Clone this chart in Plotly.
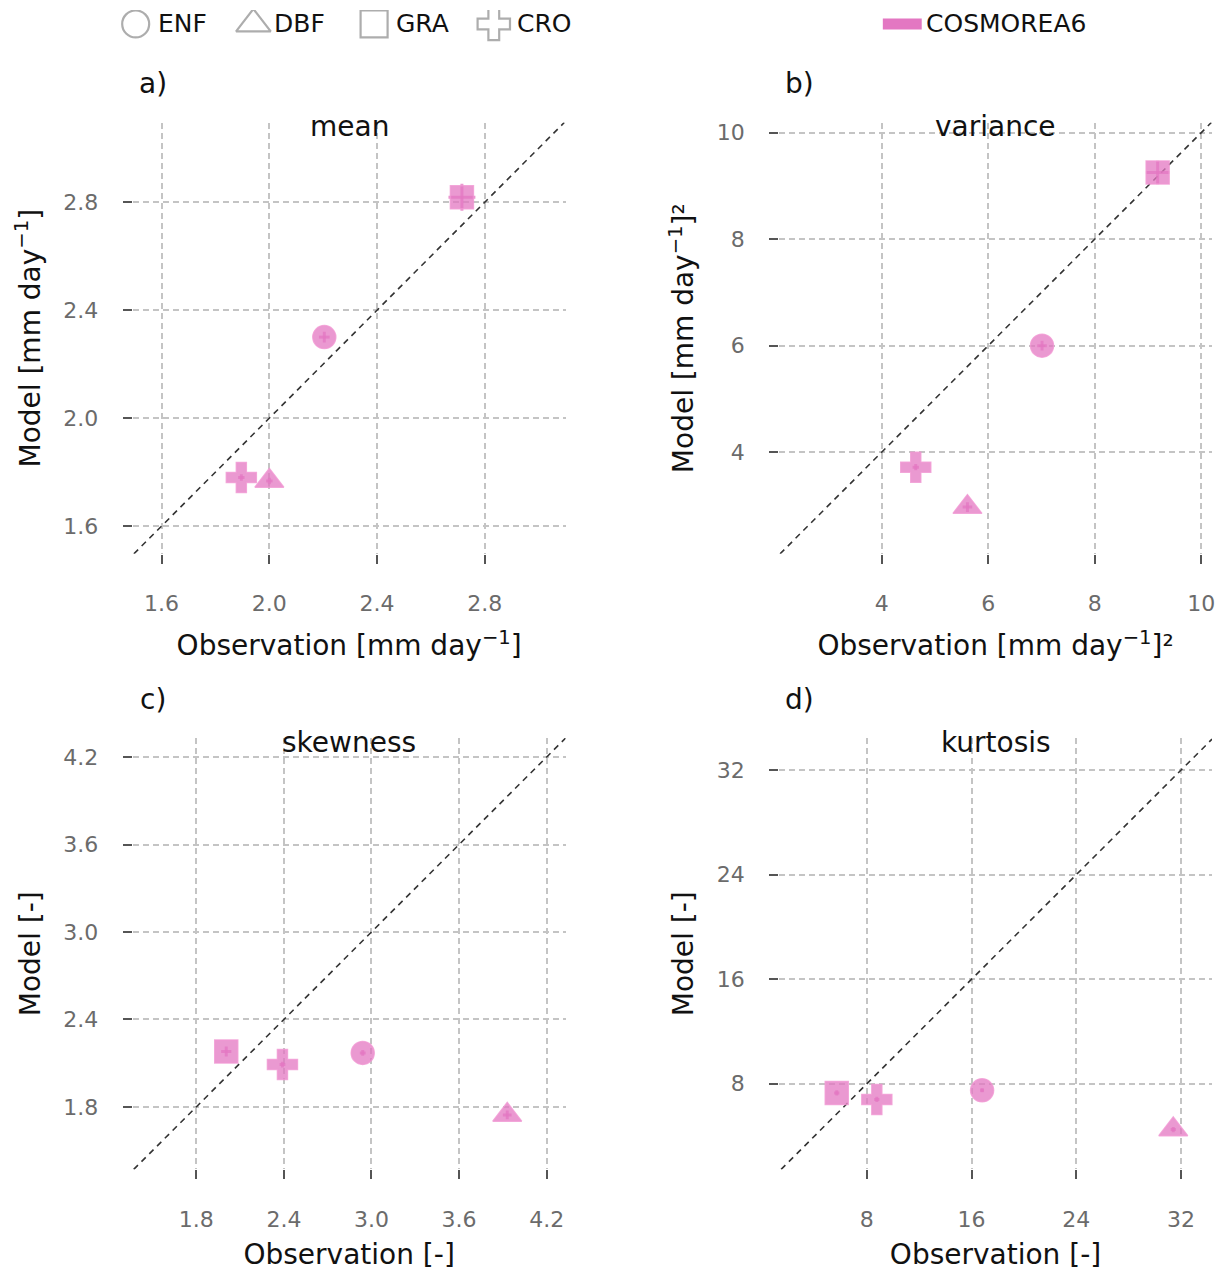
import plotly.graph_objects as go

# ---------------- data ----------------
types = ["ENF", "DBF", "GRA", "CRO"]
symbols = ["circle", "triangle-up", "square", "cross"]

mean_obs = [2.204, 2.00, 2.715, 1.896]
mean_mod = [2.30, 1.767, 2.818, 1.78]
mean_err_x = [0.02, 0.012, 0.05, 0.012]
mean_err_y = [0.02, 0.012, 0.05, 0.012]

var_obs = [7.01, 5.61, 9.18, 4.64]
var_mod = [6.00, 2.97, 9.25, 3.72]
var_err_x = [0.09, 0.09, 0.22, 0.06]
var_err_y = [0.09, 0.09, 0.22, 0.06]

skew_obs = [2.94, 3.93, 2.005, 2.39]
skew_mod = [2.17, 1.745, 2.18, 2.09]
skew_err_x = [0.02, 0.03, 0.035, 0.02]
skew_err_y = [0.02, 0.03, 0.035, 0.02]

kurt_obs = [16.8, 31.4, 5.7, 8.76]
kurt_mod = [7.5, 4.5, 7.3, 6.8]
kurt_err_x = [0.15, 0.2, 0.2, 0.2]
kurt_err_y = [0.15, 0.2, 0.2, 0.2]

panels = [
    dict(name="mean", label="a)", obs=mean_obs, mod=mean_mod, ex=mean_err_x, ey=mean_err_y,
         xr=[1.4926, 3.10], yr=[1.497, 3.095], ticks=[1.6, 2.0, 2.4, 2.8], fmt=".1f",
         xt="Observation [mm day<sup>−1</sup>]", yt="Model [mm day<sup>−1</sup>]"),
    dict(name="variance", label="b)", obs=var_obs, mod=var_mod, ex=var_err_x, ey=var_err_y,
         xr=[2.075, 10.2], yr=[2.093, 10.187], ticks=[4, 6, 8, 10], fmt="d",
         xt="Observation [mm day<sup>−1</sup>]²", yt="Model [mm day<sup>−1</sup>]²"),
    dict(name="skewness", label="c)", obs=skew_obs, mod=skew_mod, ex=skew_err_x, ey=skew_err_y,
         xr=[1.364, 4.33], yr=[1.371, 4.33], ticks=[1.8, 2.4, 3.0, 3.6, 4.2], fmt=".1f",
         xt="Observation [-]", yt="Model [-]"),
    dict(name="kurtosis", label="d)", obs=kurt_obs, mod=kurt_mod, ex=kurt_err_x, ey=kurt_err_y,
         xr=[1.295, 34.36], yr=[1.45, 34.44], ticks=[8, 16, 24, 32], fmt="d",
         xt="Observation [-]", yt="Model [-]"),
]

# page offset compensation (body margin) and figure size
OX, OY = 8, 9
FW, FH = 1225 - 16, 1281 - 18


def px(xr):
    return (xr - OX) / FW


def py(yr):
    return 1 - (yr - OY) / FH


xdoms = [[px(133), px(567)], [px(781), px(1215)]]
ydoms = [[py(555), py(122)], [py(1173), py(740)]]

PINK = "rgba(227,119,194,0.75)"
PINK_SOLID = "#e377c2"
FONT = "DejaVu Sans"

fig = go.Figure()
layout = dict()
annotations = []

for i, p in enumerate(panels):
    r, c = divmod(i, 2)
    n = i + 1
    xa = "x" if n == 1 else f"x{n}"
    ya = "y" if n == 1 else f"y{n}"
    xkey = "xaxis" if n == 1 else f"xaxis{n}"
    ykey = "yaxis" if n == 1 else f"yaxis{n}"

    # diagonal 1:1 line across the shared range
    lo = max(p["xr"][0], p["yr"][0])
    hi = min(p["xr"][1], p["yr"][1])
    fig.add_trace(go.Scatter(x=[lo, hi], y=[lo, hi], mode="lines", xaxis=xa, yaxis=ya,
                             line=dict(color="#333333", width=1.6, dash="6px,5px"),
                             showlegend=False, hoverinfo="skip"))
    for k, t in enumerate(types):
        sz = 23 if symbols[k] in ("circle", "square") else 25
        fig.add_trace(go.Scatter(
            x=[p["obs"][k]], y=[p["mod"][k]], mode="markers", xaxis=xa, yaxis=ya,
            marker=dict(symbol=symbols[k], size=sz, color=PINK,
                        line=dict(color="rgba(240,150,210,0.8)", width=1.5)),
            error_x=dict(type="data", array=[p["ex"][k]], color=PINK, thickness=3, width=0),
            error_y=dict(type="data", array=[p["ey"][k]], color=PINK, thickness=3, width=0),
            showlegend=False, name=t))

    tickvals = p["ticks"]
    ticktext = [format(v, p["fmt"]) if p["fmt"] != "d" else str(int(v)) for v in tickvals]
    common = dict(showgrid=True, gridcolor="#c4c4c4", griddash="6px,4px", gridwidth=1.5,
                  zeroline=False, showline=False, ticks="outside", ticklen=9, tickwidth=2,
                  tickcolor="#555555", tickfont=dict(size=22, color="#6b6b6b", family=FONT),
                  tickvals=tickvals, ticktext=ticktext, ticklabeloverflow="allow")
    layout[xkey] = dict(common, domain=xdoms[c], range=p["xr"], anchor=ya, ticklabelstandoff=21,
                        title=dict(text=p["xt"], font=dict(size=28, color="#111111", family=FONT),
                                   standoff=20))
    layout[ykey] = dict(common, domain=ydoms[r], range=p["yr"], anchor=xa, ticklabelstandoff=20,
                        title=dict(text=p["yt"], font=dict(size=28, color="#111111", family=FONT),
                                   standoff=14))
    annotations.append(dict(text=p["name"], xref=f"{xa} domain", yref=f"{ya} domain",
                            x=0.5, y=1, yanchor="middle", yshift=-4, showarrow=False,
                            font=dict(size=28, color="#111111", family=FONT)))
    annotations.append(dict(text=p["label"], xref="paper", yref="paper",
                            x=px([133, 781][c] + 20), y=py([83, 701][r]),
                            xanchor="center", yanchor="middle", showarrow=False,
                            font=dict(size=28, color="#111111", family=FONT)))

# ---- custom legend drawn on a hidden pixel axis across the top ----
leg_sym_x = [136, 254, 375, 495]
leg_txt_x = [156, 273, 395, 516]
LEG_Y = 23
fig.add_trace(go.Scatter(
    x=leg_sym_x, y=[LEG_Y] * 4, mode="markers", xaxis="x5", yaxis="y5",
    marker=dict(symbol=[s + "-open" for s in symbols], size=[27, 30, 27, 27],
                color="#8a8a8a", line=dict(width=2.2, color="#8a8a8a")),
    showlegend=False, hoverinfo="skip"))
for k, t in enumerate(types):
    annotations.append(dict(text=t, xref="x5", yref="y5", x=leg_txt_x[k], y=LEG_Y,
                            xanchor="left", yanchor="middle", showarrow=False,
                            font=dict(size=25, color="#111111", family=FONT)))
fig.add_trace(go.Scatter(x=[885, 924], y=[LEG_Y, LEG_Y], mode="lines", xaxis="x5", yaxis="y5",
                         line=dict(color=PINK_SOLID, width=11), showlegend=False,
                         hoverinfo="skip"))
annotations.append(dict(text="COSMOREA6", xref="x5", yref="y5", x=926, y=LEG_Y,
                        xanchor="left", yanchor="middle", showarrow=False,
                        font=dict(size=25, color="#111111", family=FONT)))
layout["xaxis5"] = dict(domain=[0, 1], range=[OX, OX + FW], visible=False, fixedrange=True)
layout["yaxis5"] = dict(domain=[py(50), 1], range=[50, OY], visible=False, fixedrange=True,
                        anchor="x5")

fig.update_layout(
    width=FW, height=FH, margin=dict(l=0, r=0, t=0, b=0),
    paper_bgcolor="white", plot_bgcolor="white",
    font=dict(family=FONT),
    annotations=annotations,
    showlegend=False,
    **layout,
)

fig.write_html("out.html")
